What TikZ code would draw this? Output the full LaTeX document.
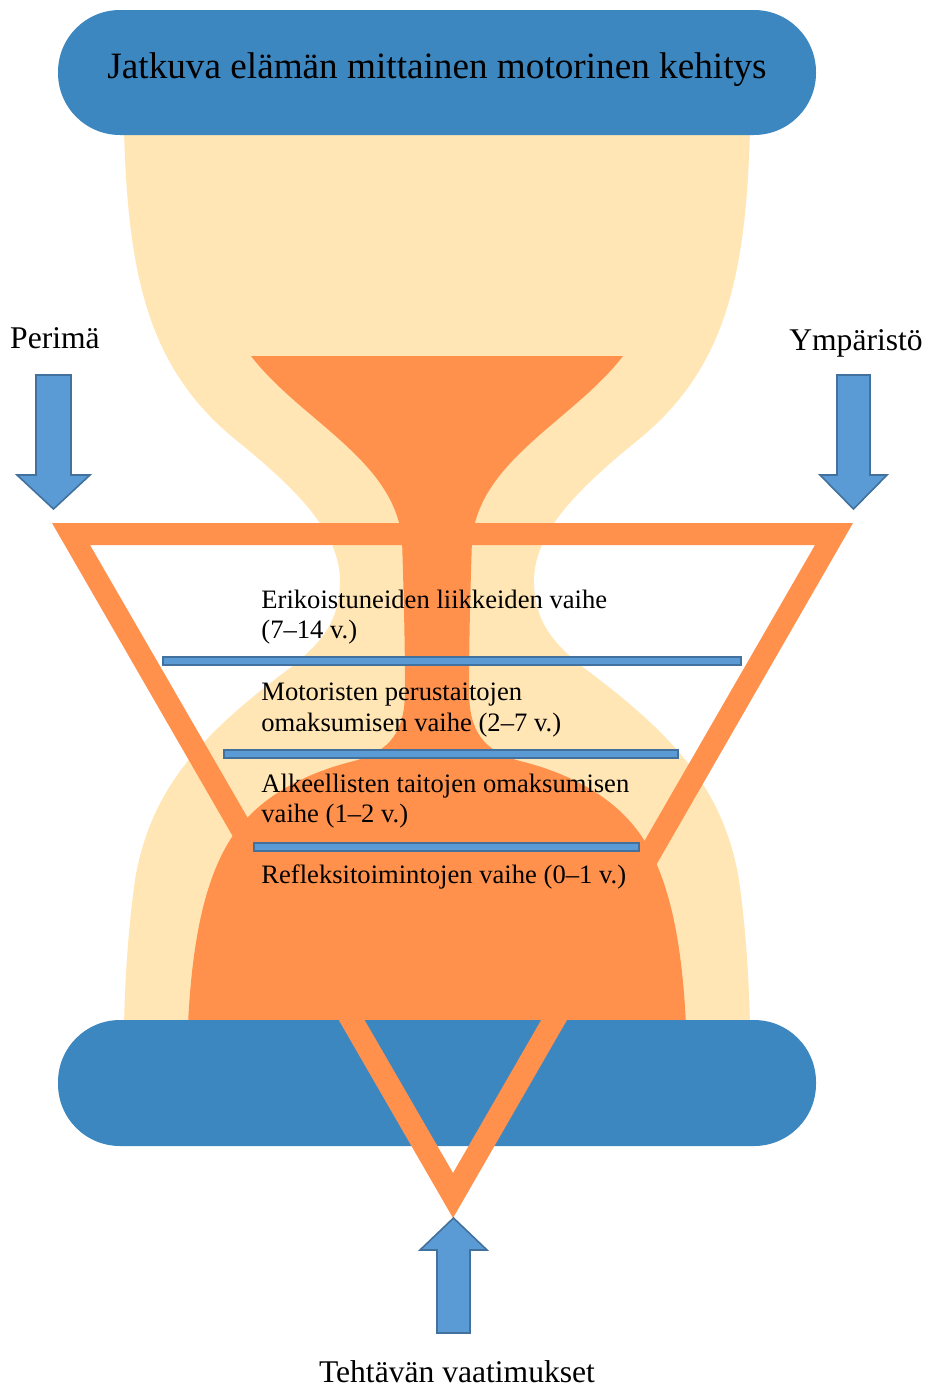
\documentclass[tikz,border=0pt]{standalone}
\usepackage{fontspec}
\setmainfont{Liberation Serif}
\definecolor{sand}{RGB}{255,230,180}
\definecolor{tangerine}{RGB}{255,145,77}
\definecolor{capblue}{RGB}{60,135,192}
\definecolor{barblue}{RGB}{91,155,213}
\definecolor{barline}{RGB}{65,113,156}
\begin{document}
\begin{tikzpicture}[x=0.5pt,y=-0.5pt,
  capsule/.style={fill=capblue,rounded corners=31pt},
  bar/.style={fill=barblue,draw=barline,line width=1pt},
  blockarrow/.style={fill=barblue,draw=barline,line width=0.8pt,line join=miter},
  stage/.style={anchor=base west,inner sep=0pt,font=\fontsize{13.3}{15}\selectfont},
  side/.style={anchor=base,inner sep=0pt,font=\fontsize{15.8}{18}\selectfont}]
\useasboundingbox (0,0) rectangle (926,1387);
\fill[sand] (124,130) .. controls (128,280) and (150,370) .. (236,440)
  .. controls (300,492) and (342,535) .. (340,585)
  .. controls (338,620) and (325,640) .. (290,668)
  .. controls (200,735) and (150,790) .. (135,880)
  .. controls (128,930) and (125,980) .. (124,1025) -- (750,1025)
  .. controls (749,980) and (746,930) .. (739,880)
  .. controls (724,790) and (674,735) .. (584,668)
  .. controls (549,640) and (536,620) .. (534,585)
  .. controls (532,535) and (574,492) .. (638,440)
  .. controls (724,370) and (746,280) .. (750,130) -- cycle;
\fill[tangerine] (251,356) -- (623,356)
  .. controls (574,420) and (479,460) .. (472,540)
  .. controls (470,600) and (469,650) .. (469,690)
  .. controls (469,730) and (482,752) .. (524,762)
  .. controls (574,775) and (619,800) .. (644,840)
  .. controls (669,880) and (682,940) .. (686,1025) -- (188,1025)
  .. controls (192,940) and (205,880) .. (230,840)
  .. controls (255,800) and (300,775) .. (350,762)
  .. controls (392,752) and (405,730) .. (405,690)
  .. controls (405,650) and (404,600) .. (402,540)
  .. controls (395,460) and (300,420) .. (251,356) -- cycle;
\fill[capsule] (58,10) rectangle (816,135);
\fill[capsule] (58,1020) rectangle (816,1146);
\fill[tangerine,even odd rule] (52,523) -- (853,523) -- (453,1218) -- cycle
  (90,545) -- (815,545) -- (453,1173) -- cycle;
\draw[bar] (163,657) rectangle (741,665);
\draw[bar] (224,750) rectangle (678,758);
\draw[bar] (254,843) rectangle (639,851);
\draw[blockarrow] (36,375) -- (71,375) -- (71,475) -- (90,475) -- (53.5,509)
  -- (17,475) -- (36,475) -- cycle;
\draw[blockarrow] (837,375) -- (870,375) -- (870,475) -- (887,475) -- (853.5,509)
  -- (820,475) -- (837,475) -- cycle;
\draw[blockarrow] (437,1333) -- (470,1333) -- (470,1250) -- (487,1250) -- (453.5,1218)
  -- (420,1250) -- (437,1250) -- cycle;
\node[anchor=base,inner sep=0pt,font=\fontsize{18.6}{22}\selectfont] (title) at (437,78)
  {Jatkuva elämän mittainen motorinen kehitys};
\node[side] (perima) at (55,348) {Perimä};
\node[side] (ymparisto) at (856,350) {Ympäristö};
\node[side] (tehtava) at (457,1382) {Tehtävän vaatimukset};
\node[stage] (erik1) at (261,608) {Erikoistuneiden liikkeiden vaihe};
\node[stage] (erik2) at (261,638) {(7–14 v.)};
\node[stage] (moto1) at (261,700) {Motoristen perustaitojen};
\node[stage] (moto2) at (261,731) {omaksumisen vaihe (2–7 v.)};
\node[stage] (alke1) at (261,792) {Alkeellisten taitojen omaksumisen};
\node[stage] (alke2) at (261,822) {vaihe (1–2 v.)};
\node[stage] (refl) at (261,883) {Refleksitoimintojen vaihe (0–1 v.)};
\end{tikzpicture}
\end{document}
